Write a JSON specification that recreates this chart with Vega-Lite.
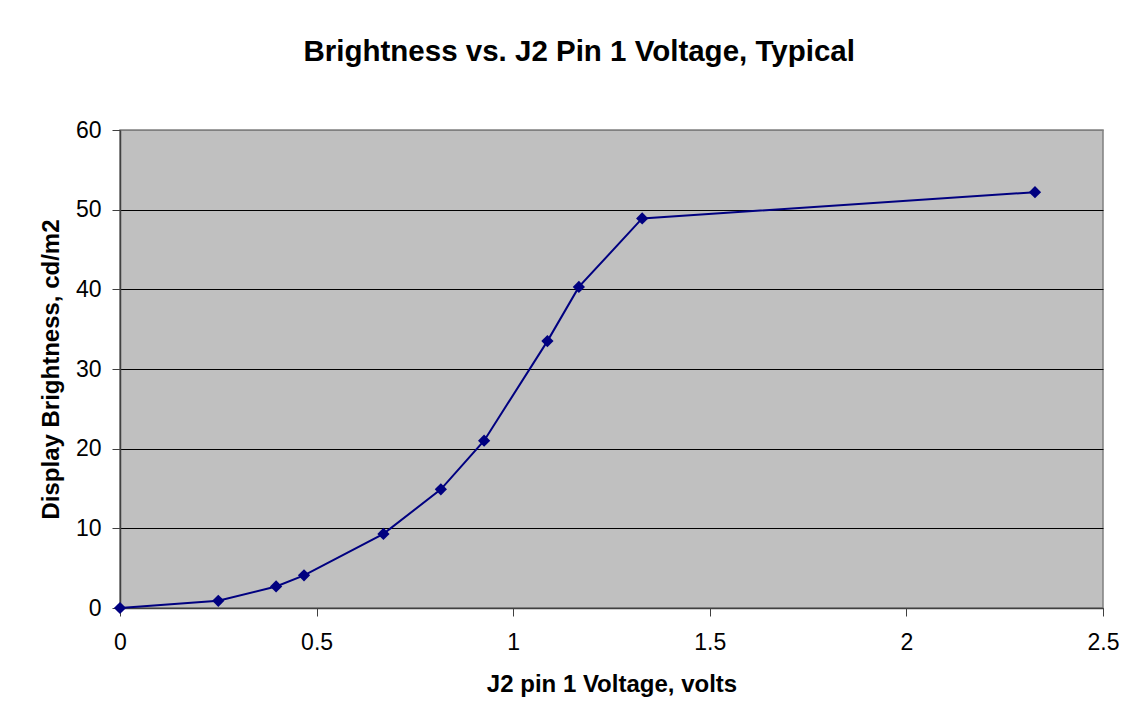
{
  "$schema": "https://vega.github.io/schema/vega-lite/v6.json",
  "width": 983,
  "height": 478,
  "autosize": {"type": "none"},
  "padding": {"left": 120, "top": 130, "right": 42, "bottom": 118},
  "background": "white",
  "title": {
    "text": "Brightness vs. J2 Pin 1 Voltage, Typical",
    "font": "Liberation Sans",
    "fontSize": 29.5,
    "fontWeight": "bold",
    "color": "black",
    "anchor": "middle",
    "frame": "bounds",
    "offset": 52
  },
  "data": {
    "values": [
      {"voltage": 0, "brightness": 0},
      {"voltage": 0.25, "brightness": 0.9},
      {"voltage": 0.397, "brightness": 2.7},
      {"voltage": 0.468, "brightness": 4.1},
      {"voltage": 0.67, "brightness": 9.3},
      {"voltage": 0.816, "brightness": 14.9},
      {"voltage": 0.926, "brightness": 21.0},
      {"voltage": 1.087, "brightness": 33.5},
      {"voltage": 1.167, "brightness": 40.3},
      {"voltage": 1.328, "brightness": 48.9},
      {"voltage": 2.327, "brightness": 52.2}
    ]
  },
  "config": {
    "view": {"fill": "#C0C0C0", "stroke": "#808080", "strokeWidth": 1.5},
    "axis": {
      "labelFont": "Liberation Sans",
      "labelFontSize": 23,
      "labelColor": "black",
      "titleFont": "Liberation Sans",
      "titleFontSize": 24,
      "titleFontWeight": "bold",
      "titleColor": "black",
      "domainColor": "#404040",
      "tickColor": "#404040",
      "tickSize": 8
    }
  },
  "encoding": {
    "x": {
      "field": "voltage",
      "type": "quantitative",
      "scale": {"domain": [0, 2.5], "nice": false, "zero": true},
      "axis": {
        "title": "J2 pin 1 Voltage, volts",
        "values": [0, 0.5, 1, 1.5, 2, 2.5],
        "format": "~g",
        "grid": false,
        "labelPadding": 15,
        "titlePadding": 18,
        "labelFlush": false,
        "domainWidth": 1.5
      }
    },
    "y": {
      "field": "brightness",
      "type": "quantitative",
      "scale": {"domain": [0, 60], "nice": false},
      "axis": {
        "title": "Display Brightness, cd/m2",
        "values": [0, 10, 20, 30, 40, 50, 60],
        "grid": true,
        "gridColor": {"condition": {"test": "datum.value == 60", "value": "#808080"}, "value": "black"},
        "gridWidth": 1,
        "gridOpacity": 1,
        "labelPadding": 11,
        "titlePadding": 12,
        "labelFlush": false,
        "domainWidth": 1.5
      }
    }
  },
  "layer": [
    {"mark": {"type": "line", "color": "#000080", "strokeWidth": 2}},
    {"mark": {"type": "point", "shape": "diamond", "filled": true, "color": "#000080", "opacity": 1, "size": 150}}
  ]
}
